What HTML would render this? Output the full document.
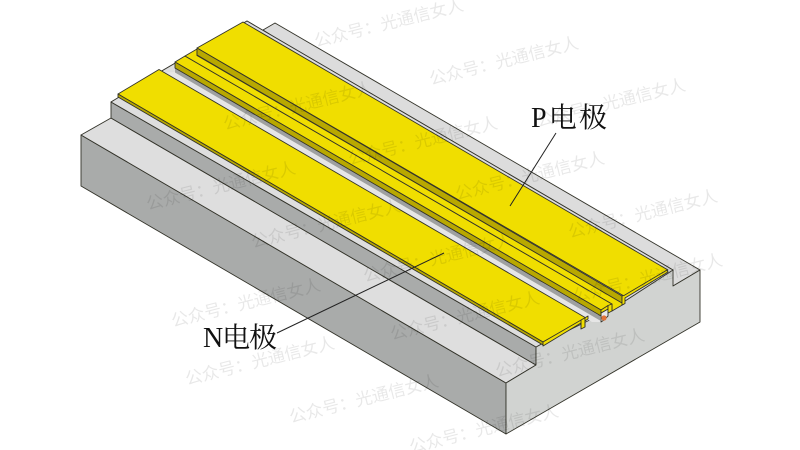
<!DOCTYPE html>
<html><head><meta charset="utf-8">
<style>
html,body{margin:0;padding:0;background:#fff;width:800px;height:450px;overflow:hidden}
svg{display:block}
.w{font-family:"Liberation Sans","Noto Sans CJK SC",sans-serif;font-size:17px;fill:#000;fill-opacity:.09}
.l{font-family:"Liberation Serif","Noto Serif CJK SC",serif;font-size:28px;fill:#111}
</style></head><body>
<svg width="800" height="450" viewBox="0 0 800 450" xmlns="http://www.w3.org/2000/svg">
<g stroke="#33332a" stroke-width=".9" stroke-linejoin="round">
<polygon points="263,30 275,23 700,270 673,286 640,270" fill="#dcdcdc"/>
<polygon points="81,135 506,383 506,434 81,186" fill="#a9abaa"/>
<polygon points="81,135 111,118 536,365 506,383" fill="#dedede"/>
<polygon points="111,102 111,118 536,365 536,347" fill="#a9abaa"/>
<polygon points="111,102 118,98 160,72 247,21 673,270 673,286 700,270 700,322 506,434 506,383 536,365 536,347 543,343 610,310" fill="#d1d3d1"/>
<polygon points="111,102 160,72 585,320 536,347" fill="#dedede"/>
<polygon points="160,72 247,21 673,270 608,312" fill="#dedede"/>
<polygon points="165,72.5 175,72 600,320 601,322 592,322 584,317" fill="#e6e6e6" stroke="none"/>
<polygon points="175,68 175,72.5 600,320.5 600,316" fill="#9ea0a0" stroke="none"/>
<polygon points="601,313 608,309 608,316 604,320 601,322" fill="#e8e8e8"/>
<polygon points="118,94 159,69.5 586,318 543,342" fill="#f0de00"/>
<polygon points="118,94 118,97 543,345 543,342" fill="#b8a800"/>
<polygon points="543,342 588,316 588,319 585,321 585,327 581,329 581,323 543,346" fill="#f0de00"/>
<line x1="581" y1="320" x2="581" y2="329"/>
<line x1="585" y1="318" x2="585" y2="327"/>
<polygon points="175,62 185,56 612,304 601,310" fill="#f0de00"/>
<polygon points="175,62 175,68 601,316 601,310" fill="#b8a800"/>
<polygon points="185,56 197,49 197,55.5 624,304 612,311 612,304" fill="#f0de00"/>
<polygon points="197,48 243,22 668,270 624,296" fill="#f0de00"/>
<polygon points="197,48 197,55 622,303 622,296" fill="#b8a800"/>
<polygon points="601,310 608,305.5 608,309 601,313" fill="#f0de00"/>
<polygon points="608,305.5 612,304 612,311 608,313" fill="#f0de00"/>
<polygon points="622,296 624,295.5 667,270 668,272 625,298 625,303.5 622,305 622,303" fill="#f0de00"/>
</g>
<circle cx="604" cy="318" r="2.6" fill="#e0733a"/>
<g stroke="#222" stroke-width="1">
<line x1="556" y1="133" x2="510" y2="206"/>
<line x1="277" y1="333" x2="444" y2="253"/>
</g>
<text class="l" x="531" y="127" textLength="76" lengthAdjust="spacing">P电极</text>
<text class="l" x="203" y="347" textLength="74" lengthAdjust="spacing">N电极</text>
<g class="w">
<text transform="translate(316,47) rotate(-14)">公众号：光通信女人</text>
<text transform="translate(431,85) rotate(-14)">公众号：光通信女人</text>
<text transform="translate(538,127) rotate(-14)">公众号：光通信女人</text>
<text transform="translate(225,130) rotate(-14)">公众号：光通信女人</text>
<text transform="translate(350,165) rotate(-14)">公众号：光通信女人</text>
<text transform="translate(457,200) rotate(-14)">公众号：光通信女人</text>
<text transform="translate(570,238) rotate(-14)">公众号：光通信女人</text>
<text transform="translate(148,210) rotate(-14)">公众号：光通信女人</text>
<text transform="translate(253,248) rotate(-14)">公众号：光通信女人</text>
<text transform="translate(365,282) rotate(-14)">公众号：光通信女人</text>
<text transform="translate(575,302) rotate(-14)">公众号：光通信女人</text>
<text transform="translate(173,327) rotate(-14)">公众号：光通信女人</text>
<text transform="translate(392,340) rotate(-14)">公众号：光通信女人</text>
<text transform="translate(497,377) rotate(-14)">公众号：光通信女人</text>
<text transform="translate(187,385) rotate(-14)">公众号：光通信女人</text>
<text transform="translate(291,423) rotate(-14)">公众号：光通信女人</text>
<text transform="translate(411,453) rotate(-14)">公众号：光通信女人</text>
</g>
</svg>
</body></html>
